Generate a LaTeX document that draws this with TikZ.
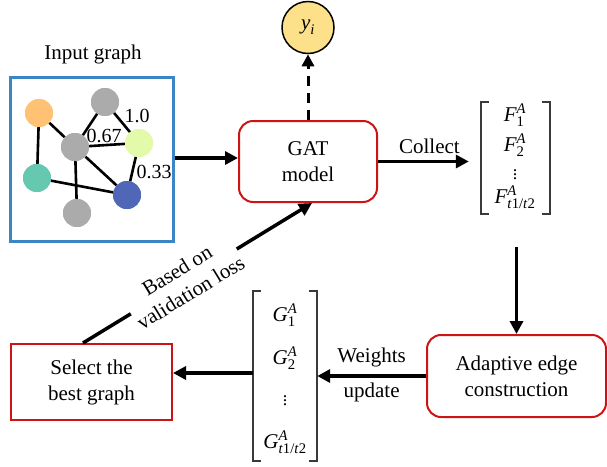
\documentclass[tikz,border=0pt]{standalone}
\usepackage{amsmath}
\usepackage{fontspec}
\setmainfont{Liberation Serif}[Ligatures=TeX]
\usetikzlibrary{arrows.meta}

\definecolor{boxred}{HTML}{CC1414}
\definecolor{boxblue}{HTML}{3D85C6}
\definecolor{nodeorange}{HTML}{FFC274}
\definecolor{nodegray}{HTML}{ABABAB}
\definecolor{nodelime}{HTML}{E2FAAA}
\definecolor{nodeteal}{HTML}{66C8B0}
\definecolor{nodeblue}{HTML}{5066B6}
\definecolor{outyellow}{HTML}{FCE08A}
\definecolor{brackgray}{HTML}{3A3A3A}

% matrix entry: italic symbol with italic superscript and upright subscript
\newcommand\mvec[3]{$\textit{#1}^{\textit{#2}}_{\textrm{#3}}$}

\tikzset{
  every node/.style={font=\fontsize{21}{26}\selectfont},
  procbox/.style={draw=boxred, line width=2pt, rounded corners=14pt, align=center, inner sep=0pt},
  selbox/.style={draw=boxred, line width=2pt, align=center, inner sep=0pt},
  gnode/.style={circle, minimum size=28pt, inner sep=0pt},
  gedge/.style={line width=2.6pt, black},
  wlabel/.style={font=\fontsize{20}{24}\selectfont, inner sep=0pt},
  arr/.style={line width=3.5pt, -{Triangle[length=13pt,width=13pt]}},
  brack/.style={line width=1.5pt, brackgray},
  slot/.style={inner sep=0pt},
  dots/.style={inner sep=0pt, font=\fontsize{18}{18}\selectfont}
}

\begin{document}
\begin{tikzpicture}[x=1pt, y=-1pt]
\useasboundingbox (0,0) rectangle (607,466);

% ---- input graph panel ----
\node (title) at (93,54) {Input graph};
\node[draw=boxblue, line width=3pt, minimum width=163pt, minimum height=164pt, inner sep=0pt] (inbox) at (91.5,159) {};

\node[gnode, fill=nodegray]   (gtop) at (105,102) {};
\node[gnode, fill=nodeorange] (gor)  at (39,113) {};
\node[gnode, fill=nodegray]   (gmid) at (75,147) {};
\node[gnode, fill=nodelime]   (glim) at (139,143) {};
\node[gnode, fill=nodeteal]   (gtea) at (37,178) {};
\node[gnode, fill=nodeblue]   (gblu) at (127,195) {};
\node[gnode, fill=nodegray]   (gbot) at (77,213) {};

\draw[gedge] (gor) -- (gmid);
\draw[gedge] (gor) -- (gtea);
\draw[gedge] (gtop) -- (gmid);
\draw[gedge] (gtop) -- (glim);
\draw[gedge] (gmid) -- (glim);
\draw[gedge] (gmid) -- (gblu);
\draw[gedge] (gmid) -- (gbot);
\draw[gedge] (gtea) -- (gblu);
\draw[gedge] (glim) -- (gblu);
% discs drawn again so that they sit over the edge ends
\foreach \n/\c in {gtop/nodegray, gor/nodeorange, gmid/nodegray, glim/nodelime, gtea/nodeteal, gblu/nodeblue, gbot/nodegray}
  \fill[\c] (\n.center) circle (14pt);

\node[wlabel] (w1) at (137,116) {1.0};
\node[wlabel] (w2) at (104,136) {0.67};
\node[wlabel] (w3) at (154,172) {0.33};

% ---- model and output ----
\node[procbox, minimum width=138pt, minimum height=81pt] (gat) at (308,161.5) {GAT\\model};
\node[circle, draw=black, line width=1.5pt, fill=outyellow, minimum size=52pt, inner sep=0pt] (yout) at (308,27.5) {$\textit{y}_{\textit{i}}$};

% ---- collected features ----
\node[slot, minimum width=69pt, minimum height=112pt] (fmat) at (515.5,158) {};
\node[slot] (f1) at (515,115) {\mvec{F}{A}{1}};
\node[slot] (f2) at (515,145) {\mvec{F}{A}{2}};
\node[dots] (f3) at (515,172) {$\vdots$};
\node[slot] (f4) at (515,197) {\mvec{F}{A}{\textit{t}1/\textit{t}2}};
\draw[brack] ([xshift=8pt]fmat.north west) -- (fmat.north west) -- (fmat.south west) -- ([xshift=8pt]fmat.south west);
\draw[brack] ([xshift=-8pt]fmat.north east) -- (fmat.north east) -- (fmat.south east) -- ([xshift=-8pt]fmat.south east);

% ---- edge construction ----
\node[procbox, minimum width=179pt, minimum height=82pt] (adapt) at (516.5,376) {Adaptive edge\\construction};

% ---- candidate graphs ----
\node[slot, minimum width=64pt, minimum height=170pt] (gmat) at (285,376) {};
\node[slot] (g1) at (285,315) {\mvec{G}{A}{1}};
\node[slot] (g2) at (285,358) {\mvec{G}{A}{2}};
\node[dots] (g3) at (285,398) {$\vdots$};
\node[slot] (g4) at (285,442) {\mvec{G}{A}{\textit{t}1/\textit{t}2}};
\draw[brack] ([xshift=8pt]gmat.north west) -- (gmat.north west) -- (gmat.south west) -- ([xshift=8pt]gmat.south west);
\draw[brack] ([xshift=-8pt]gmat.north east) -- (gmat.north east) -- (gmat.south east) -- ([xshift=-8pt]gmat.south east);

% ---- selection ----
\node[selbox, minimum width=161pt, minimum height=76pt] (select) at (91.5,382) {Select the\\best graph};

% ---- connectors ----
\draw[arr] ([yshift=1pt]inbox.east) -- ([yshift=1pt]inbox.east -| gat.west);
\draw[line width=3pt, dash pattern=on 10pt off 7pt, -{Triangle[length=12pt,width=12pt]}] (gat.north) -- (yout.south);
\draw[arr, shorten >=12pt] (gat.east) -- (gat.east -| fmat.west)
  node[midway, above=3pt] (collect) {Collect};
\draw[arr, shorten <=33pt] (fmat.south -| adapt.north) -- (adapt.north);
\draw[arr] (adapt.west) -- (adapt.west -| gmat.east)
  node[midway, above=4pt] (wts) {Weights}
  node[midway, below=2pt] (upd) {update};
\draw[arr] ([yshift=3pt]gmat.west) -- ([yshift=3pt]gmat.west -| select.east);
\draw[arr] ([xshift=-8.5pt]select.north) -- ([xshift=4pt]gat.south)
  node[pos=0.44, sloped, fill=white, align=center, inner sep=1pt] (basis) {Based on\\validation loss};
\end{tikzpicture}
\end{document}
